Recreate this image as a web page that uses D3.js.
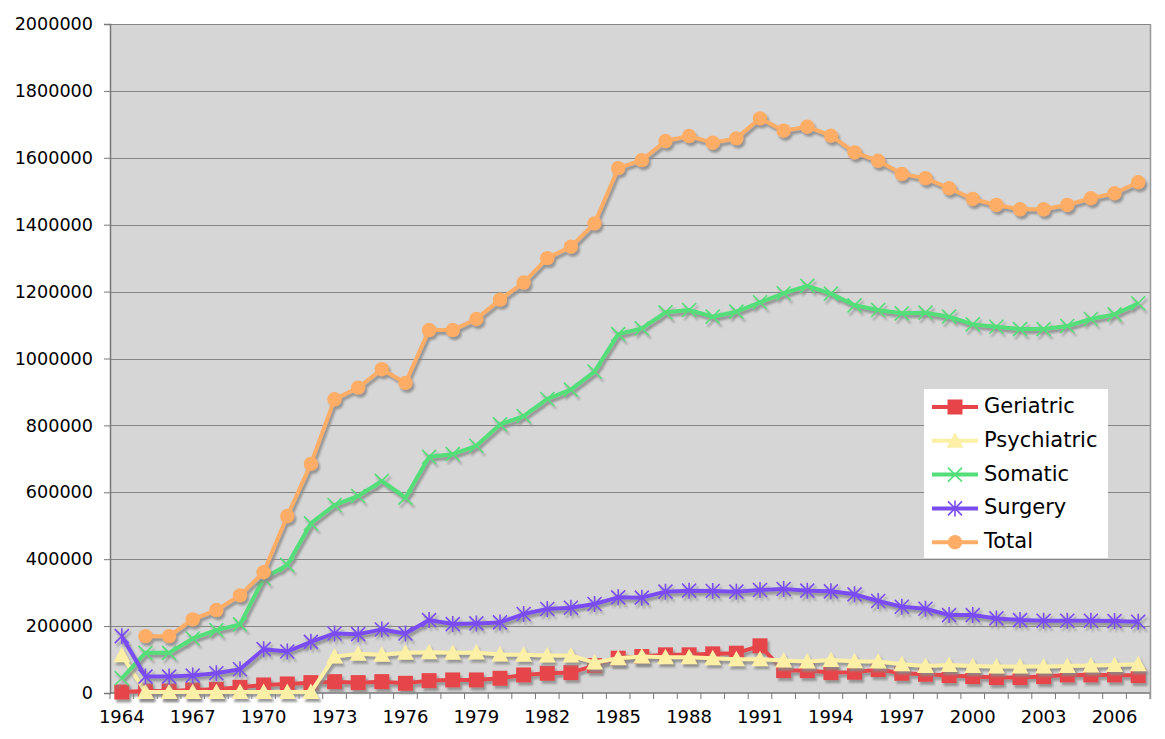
<!DOCTYPE html>
<html>
<head>
<meta charset="utf-8">
<script src="https://cdn.jsdelivr.net/npm/d3@7"></script>
<style>
  body { margin: 0; background: #fff; }
  svg { display: block; font-family: "DejaVu Sans", Verdana, sans-serif; }
  .tick-label { font-size: 18px; fill: #000; font-family: "DejaVu Sans", Verdana, sans-serif; }
  .y-label { font-size: 17.6px; }
  .legend-label { font-size: 21px; fill: #000; }
</style>
</head>
<body>
<div id="chart"></div>
<script>
const YEARS = [1964, 1965, 1966, 1967, 1968, 1969, 1970, 1971, 1972, 1973, 1974,
  1975, 1976, 1977, 1978, 1979, 1980, 1981, 1982, 1983, 1984, 1985, 1986, 1987,
  1988, 1989, 1990, 1991, 1992, 1993, 1994, 1995, 1996, 1997, 1998, 1999, 2000,
  2001, 2002, 2003, 2004, 2005, 2006, 2007];

const X_LABEL_YEARS = [1964, 1967, 1970, 1973, 1976, 1979, 1982, 1985, 1988,
  1991, 1994, 1997, 2000, 2003, 2006];

const Y_TICKS = [0, 200000, 400000, 600000, 800000, 1000000, 1200000, 1400000,
  1600000, 1800000, 2000000];

const GERIATRIC = [3000, 6000, 6000, 9000, 11000, 17000, 24000, 27000, 31000,
  34000, 31000, 34000, 29000, 37000, 39000, 39000, 44000, 54000, 59000, 61000,
  82000, 104000, 109000, 114000, 114000, 117000, 119000, 141000, 67000, 67000,
  61000, 62000, 70000, 59000, 56000, 52000, 49000, 46000, 46000, 49000, 54000,
  54000, 54000, 52000];

const PSYCHIATRIC = [113000, 3000, 3000, 3000, 3000, 3000, 3000, 3000, 3000,
  109000, 117000, 114000, 120000, 122000, 120000, 121000, 115000, 114000, 112000,
  112000, 91000, 104000, 109000, 107000, 107000, 104000, 101000, 101000, 97000,
  94000, 99000, 95000, 94000, 86000, 81000, 84000, 81000, 79000, 79000, 79000,
  81000, 82000, 84000, 86000];

const SOMATIC = [44000, 120000, 120000, 163000, 188000, 205000, 343000, 383000,
  507000, 562000, 589000, 634000, 584000, 706000, 714000, 739000, 803000, 828000,
  879000, 907000, 961000, 1073000, 1090000, 1138000, 1145000, 1125000, 1140000,
  1168000, 1195000, 1217000, 1194000, 1159000, 1145000, 1135000, 1137000, 1125000,
  1102000, 1095000, 1088000, 1088000, 1097000, 1118000, 1132000, 1165000];

const SURGERY = [170000, 49000, 49000, 52000, 59000, 71000, 131000, 124000,
  153000, 178000, 176000, 190000, 178000, 218000, 206000, 208000, 211000, 236000,
  251000, 255000, 266000, 286000, 285000, 303000, 306000, 305000, 303000, 308000,
  311000, 306000, 304000, 295000, 275000, 258000, 252000, 233000, 233000, 223000,
  218000, 216000, 216000, 216000, 215000, 213000];

const TOTAL = [null, 170000, 170000, 220000, 248000, 292000, 361000, 529000,
  685000, 878000, 913000, 968000, 927000, 1085000, 1085000, 1118000, 1176000,
  1227000, 1300000, 1334000, 1404000, 1569000, 1593000, 1650000, 1665000, 1645000,
  1658000, 1718000, 1681000, 1693000, 1666000, 1616000, 1591000, 1552000, 1539000,
  1509000, 1477000, 1459000, 1446000, 1446000, 1459000, 1479000, 1494000, 1527000];

const SERIES = [
  { name: "Geriatric", values: GERIATRIC, color: "#e64448", marker: "square" },
  { name: "Psychiatric", values: PSYCHIATRIC, color: "#fcefa6", marker: "triangle" },
  { name: "Somatic", values: SOMATIC, color: "#53de79", marker: "cross" },
  { name: "Surgery", values: SURGERY, color: "#7a4cf0", marker: "asterisk" },
  { name: "Total", values: TOTAL, color: "#fdad66", marker: "circle" },
];

function drawMarker(group, type, color) {
  if (type === "square") {
    group.append("rect").attr("x", -7.5).attr("y", -7.5).attr("width", 15).attr("height", 15).attr("fill", color);
  } else if (type === "triangle") {
    group.append("path").attr("d", "M0,-8.5L8.5,7L-8.5,7Z").attr("fill", color);
  } else if (type === "circle") {
    group.append("circle").attr("r", 7.2).attr("fill", color);
  } else if (type === "cross") {
    group.append("path").attr("d", "M-7,-7L7,7M-7,7L7,-7").attr("stroke", color).attr("stroke-width", 1.6).attr("fill", "none");
  } else if (type === "asterisk") {
    group.append("path").attr("d", "M-7,-7L7,7M-7,7L7,-7M0,-8L0,8").attr("stroke", color).attr("stroke-width", 1.6).attr("fill", "none");
  }
}

function renderChart() {
  const width = 1165;
  const height = 739;
  const margin = { top: 24, right: 15, bottom: 46, left: 110 };

  const svg = d3.select("#chart").append("svg").attr("width", width).attr("height", height);

  const defs = svg.append("defs");
  defs.append("filter")
    .attr("id", "shadow")
    .attr("x", "-10%").attr("y", "-10%").attr("width", "120%").attr("height", "130%")
    .append("feDropShadow")
    .attr("dx", 2).attr("dy", 3).attr("stdDeviation", 1)
    .attr("flood-color", "#8a8a8a").attr("flood-opacity", 0.85);

  const x = d3.scaleBand()
    .domain(YEARS)
    .range([margin.left, width - margin.right]);

  const y = d3.scaleLinear()
    .domain([0, 2000000])
    .range([height - margin.bottom, margin.top]);

  const cx = (year) => x(year) + x.bandwidth() / 2;

  // plot background
  svg.append("rect")
    .attr("x", margin.left)
    .attr("y", margin.top)
    .attr("width", width - margin.left - margin.right)
    .attr("height", height - margin.top - margin.bottom)
    .attr("fill", "#d6d6d6");

  // gridlines
  svg.append("g")
    .selectAll("line")
    .data(Y_TICKS.slice(1))
    .join("line")
    .attr("x1", margin.left)
    .attr("x2", width - margin.right)
    .attr("y1", (d) => Math.round(y(d)) + 0.5)
    .attr("y2", (d) => Math.round(y(d)) + 0.5)
    .attr("stroke", "#858585")
    .attr("stroke-width", 1.2);

  // y axis
  svg.append("g")
    .attr("transform", `translate(${margin.left}, 0)`)
    .call(d3.axisLeft(y).tickValues(Y_TICKS).tickSize(6).tickPadding(11).tickFormat((d) => String(d)))
    .attr("font-family", null)
    .attr("font-size", null)
    .call((g) => g.select(".domain").attr("stroke", "#777").attr("stroke-width", 1.5))
    .call((g) => g.selectAll(".tick line").attr("stroke", "#777"))
    .call((g) => g.selectAll("text").attr("class", "tick-label y-label"));

  // x axis: ticks at every category boundary, labels every third year
  const xAxis = svg.append("g").attr("transform", `translate(0, ${height - margin.bottom})`);
  xAxis.append("line")
    .attr("x1", margin.left)
    .attr("x2", width - margin.right)
    .attr("stroke", "#777")
    .attr("stroke-width", 1.5);
  xAxis.selectAll(".xt")
    .data(YEARS.concat(["end"]))
    .join("line")
    .attr("class", "xt")
    .attr("x1", (d) => (d === "end" ? width - margin.right : x(d)))
    .attr("x2", (d) => (d === "end" ? width - margin.right : x(d)))
    .attr("y1", 0)
    .attr("y2", 6)
    .attr("stroke", "#777");
  xAxis.selectAll(".tick-label")
    .data(X_LABEL_YEARS)
    .join("text")
    .attr("class", "tick-label")
    .attr("x", (d) => cx(d))
    .attr("y", 25)
    .attr("text-anchor", "middle")
    .attr("dominant-baseline", "middle")
    .text((d) => d);

  // right border of plot
  svg.append("line")
    .attr("x1", width - margin.right + 0.5)
    .attr("x2", width - margin.right + 0.5)
    .attr("y1", margin.top)
    .attr("y2", height - margin.bottom + 6)
    .attr("stroke", "#999")
    .attr("stroke-width", 1.5);

  const line = d3.line()
    .defined((d) => d.value !== null)
    .x((d) => cx(d.year))
    .y((d) => y(d.value));

  SERIES.forEach((series) => {
    const points = YEARS.map((year, i) => ({ year, value: series.values[i] }));
    const g = svg.append("g").attr("filter", "url(#shadow)");

    g.append("path")
      .datum(points)
      .attr("d", line)
      .attr("fill", "none")
      .attr("stroke", series.color)
      .attr("stroke-width", 4)
      .attr("stroke-linejoin", "round");

    g.selectAll(".marker")
      .data(points.filter((d) => d.value !== null))
      .join("g")
      .attr("class", "marker")
      .attr("transform", (d) => `translate(${cx(d.year)}, ${y(d.value)})`)
      .each(function () {
        drawMarker(d3.select(this), series.marker, series.color);
      });
  });

  // legend
  const legend = svg.append("g").attr("transform", "translate(924, 389)");
  legend.append("rect")
    .attr("width", 184)
    .attr("height", 169)
    .attr("fill", "#fff");

  SERIES.forEach((series, i) => {
    const rowY = 18 + i * 33.8;
    legend.append("line")
      .attr("x1", 8)
      .attr("x2", 54)
      .attr("y1", rowY)
      .attr("y2", rowY)
      .attr("stroke", series.color)
      .attr("stroke-width", 4);
    const m = legend.append("g").attr("transform", `translate(31, ${rowY})`);
    drawMarker(m, series.marker, series.color);
    legend.append("text")
      .attr("class", "legend-label")
      .attr("x", 60)
      .attr("y", rowY)
      .attr("dominant-baseline", "middle")
      .text(series.name);
  });
}

renderChart();
</script>
</body>
</html>
